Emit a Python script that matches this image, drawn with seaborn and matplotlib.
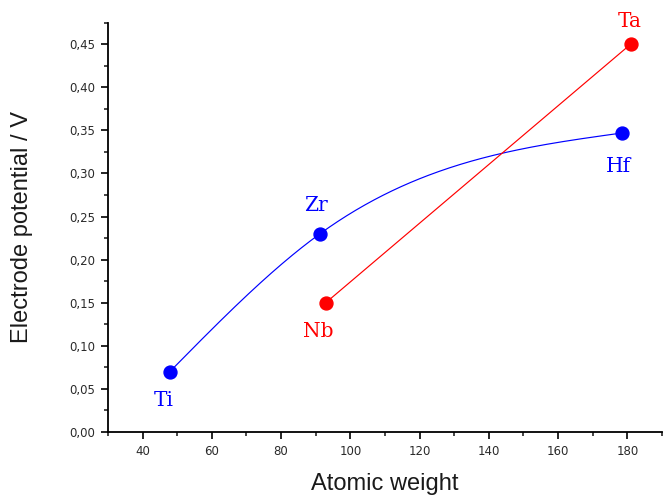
import numpy as np
import pandas as pd
import matplotlib
matplotlib.use("Agg")
import matplotlib.pyplot as plt
import seaborn as sns
from matplotlib.ticker import MultipleLocator, FuncFormatter

# Group IV metals (blue) and group V metals (red)
g4_names = ["Ti", "Zr", "Hf"]
g4_weight = [47.87, 91.22, 178.49]
g4_potential = [0.07, 0.23, 0.347]

g5_names = ["Nb", "Ta"]
g5_weight = [92.91, 180.95]
g5_potential = [0.15, 0.45]

# label offsets in points (dx, dy) to the text baseline
g4_offsets = [(-4.3, -25), (-3, 16.6), (-3, -28)]
g5_offsets = [(-5.4, -25), (-1, 12.2)]

BLUE = "#0000ff"
RED = "#ff0000"


def natural_spline(x, y, n=300):
    """Natural cubic spline through the given knots, sampled densely."""
    x = np.asarray(x, float)
    y = np.asarray(y, float)
    k = len(x)
    h = np.diff(x)
    A = np.zeros((k, k))
    r = np.zeros(k)
    A[0, 0] = A[-1, -1] = 1.0
    for i in range(1, k - 1):
        A[i, i - 1] = h[i - 1]
        A[i, i] = 2 * (h[i - 1] + h[i])
        A[i, i + 1] = h[i]
        r[i] = 6 * ((y[i + 1] - y[i]) / h[i] - (y[i] - y[i - 1]) / h[i - 1])
    M = np.linalg.solve(A, r)
    xs = np.linspace(x[0], x[-1], n)
    idx = np.clip(np.searchsorted(x, xs) - 1, 0, k - 2)
    x0, x1 = x[idx], x[idx + 1]
    hh = h[idx]
    ys = (M[idx] * (x1 - xs) ** 3 / (6 * hh) + M[idx + 1] * (xs - x0) ** 3 / (6 * hh)
          + (y[idx] / hh - M[idx] * hh / 6) * (x1 - xs)
          + (y[idx + 1] / hh - M[idx + 1] * hh / 6) * (xs - x0))
    return xs, ys


sns.set_style("ticks")
plt.rcParams["font.family"] = ["Liberation Sans", "DejaVu Sans"]

fig = plt.figure(figsize=(6.66, 4.98), dpi=100)
ax = fig.add_axes([0.162, 0.1325, 0.832, 0.822])

xs, ys = natural_spline(g4_weight, g4_potential)
curve = pd.DataFrame({"w": xs, "v": ys})
sns.lineplot(data=curve, x="w", y="v", color=BLUE, lw=0.85, ax=ax)

g5 = pd.DataFrame({"w": g5_weight, "v": g5_potential})
sns.lineplot(data=g5, x="w", y="v", color=RED, lw=0.85, ax=ax)

g4 = pd.DataFrame({"w": g4_weight, "v": g4_potential})
ax.plot(g4["w"], g4["v"], "o", color=BLUE, ms=9.3, mec=BLUE, zorder=5)
ax.plot(g5["w"], g5["v"], "o", color=RED, ms=9.3, mec=RED, zorder=5)

for names, xw, yv, offs, col in [
    (g4_names, g4_weight, g4_potential, g4_offsets, BLUE),
    (g5_names, g5_weight, g5_potential, g5_offsets, RED),
]:
    for n, x, y, o in zip(names, xw, yv, offs):
        ax.annotate(n, (x, y), xytext=o, textcoords="offset points",
                    ha="center", va="baseline", color=col, fontsize=14.5,
                    family="DejaVu Serif")

ax.set_xlim(30, 190)
ax.set_ylim(0, 0.475)
ax.xaxis.set_major_locator(MultipleLocator(20))
ax.xaxis.set_minor_locator(MultipleLocator(10))
ax.yaxis.set_major_locator(MultipleLocator(0.05))
ax.yaxis.set_minor_locator(MultipleLocator(0.025))
ax.yaxis.set_major_formatter(FuncFormatter(lambda v, p: f"{v:.2f}".replace(".", ",")))
ax.xaxis.set_major_formatter(FuncFormatter(lambda v, p: "" if v < 40 else f"{v:.0f}"))

for s in ["top", "right"]:
    ax.spines[s].set_visible(False)
for s in ["left", "bottom"]:
    ax.spines[s].set_linewidth(1.3)
    ax.spines[s].set_color("black")
ax.tick_params(which="major", direction="out", length=5, width=1.2,
               labelsize=8.5, colors="black", labelcolor="#2a2a2a", pad=4)
ax.tick_params(which="minor", direction="out", length=3, width=1.2)
for lab in ax.get_xticklabels() + ax.get_yticklabels():
    lab.set_family("DejaVu Sans")

ax.set_xlabel("Atomic weight", fontsize=17, labelpad=11, color="#1a1a1a")
ax.set_ylabel("Electrode potential / V", fontsize=17, labelpad=26, color="#1a1a1a")

fig.savefig("out.png", dpi=100)
